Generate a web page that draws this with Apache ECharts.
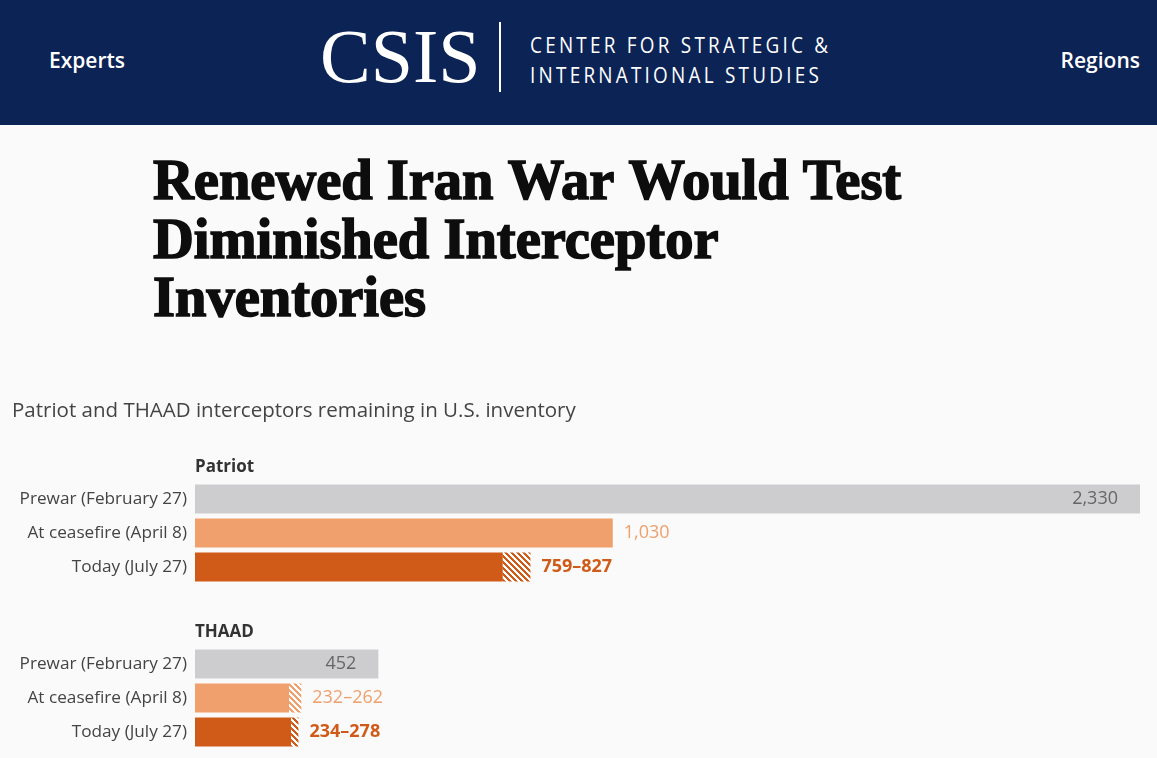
<!DOCTYPE html>
<html>
<head>
<meta charset="utf-8">
<script src="https://cdn.jsdelivr.net/npm/echarts@6/dist/echarts.min.js"></script>
<style>
  html, body { margin: 0; padding: 0; background: #fafafa; }
  #main { position: absolute; left: 0; top: 0; width: 1157px; height: 758px; }
  #head { position: absolute; left: 0; top: 0; width: 1157px; height: 125px; background: #0b2355; color: #fff; z-index: 2; }
  #head .nav { position: absolute; top: 46px; font: 600 21px "Open Sans"; line-height: 28px; }
  #head .logo { position: absolute; left: 320px; top: 10px; font: normal 76px "Liberation Serif"; line-height: 92px; letter-spacing: 0; }
  #head .bar { position: absolute; left: 499px; top: 22px; width: 2px; height: 70px; background: #fff; }
  #head .org { position: absolute; left: 530px; font: normal 21px "Open Sans"; letter-spacing: 3.6px; line-height: 24px;
               white-space: nowrap; transform: scaleX(0.9); transform-origin: left center; }
</style>
</head>
<body>
<div id="head">
  <div class="nav" style="left:49px">Experts</div>
  <div class="nav" style="right:17px">Regions</div>
  <div class="logo">CSIS</div>
  <div class="bar"></div>
  <div class="org" style="top:33px">CENTER FOR STRATEGIC &amp;</div>
  <div class="org" style="top:63px">INTERNATIONAL STUDIES</div>
</div>
<div id="main"></div>
<script>
var chart = echarts.init(document.getElementById('main'));

// data
var categories = ['Prewar (February 27)', 'At ceasefire (April 8)', 'Today (July 27)'];
var patriotLow = [2330, 1030, 759];
var patriotHigh = [2330, 1030, 827];
var patriotLabels = ['2,330', '1,030', '759–827'];
var thaadLow = [452, 232, 237];
var thaadHigh = [452, 262, 255];
var thaadLabels = ['452', '232–262', '234–278'];
var maxValue = 2330;

var titleLines = ['Renewed Iran War Would Test', 'Diminished Interceptor', 'Inventories'];
var subtitle = 'Patriot and THAAD interceptors remaining in U.S. inventory';

var grey = '#cdcdcf', light = '#efa06d', dark = '#d05a17';
var rowColors = [grey, light, dark];
var labelColors = ['#666666', '#efa06d', '#d05a17'];
var sans = '"Open Sans"';

// diagonal stripe pattern, "\\\" direction
function stripes(color) {
  var c = document.createElement('canvas');
  c.width = 6; c.height = 6;
  var ctx = c.getContext('2d');
  ctx.fillStyle = '#ffffff';
  ctx.fillRect(0, 0, 6, 6);
  ctx.fillStyle = color;
  for (var x = 0; x < 6; x++) {
    for (var y = 0; y < 6; y++) {
      if (((x - y) % 6 + 6) % 6 < 3) ctx.fillRect(x, y, 1, 1);
    }
  }
  return { image: c, repeat: 'repeat' };
}
var patterns = [null, stripes(light), stripes(dark)];

function solidData(low, labels) {
  return low.map(function (v, i) {
    var item = { value: v, itemStyle: { color: rowColors[i] } };
    if (i === 0) {
      item.label = {
        show: true, position: 'insideRight', distance: 22,
        formatter: labels[0], color: '#666666', fontSize: 18, fontFamily: sans
      };
    }
    return item;
  });
}
function hatchData(low, high, labels) {
  return low.map(function (v, i) {
    return {
      value: high[i] - v,
      itemStyle: { color: patterns[i] || rowColors[i] },
      label: {
        show: i > 0,
        position: 'right',
        distance: 11,
        formatter: labels[i],
        color: labelColors[i],
        fontSize: 18,
        fontWeight: i === 2 ? 'bold' : 'normal',
        fontFamily: sans
      }
    };
  });
}

var grids = [
  { left: 195, width: 945, top: 482, height: 102 },
  { left: 195, width: 945, top: 647, height: 102 }
];

var xAxes = [0, 1].map(function (i) {
  return { gridIndex: i, type: 'value', min: 0, max: maxValue, show: false };
});
var yAxes = [0, 1].map(function (i) {
  return {
    gridIndex: i, type: 'category', data: categories, inverse: true,
    axisLine: { show: false }, axisTick: { show: false }, splitLine: { show: false },
    axisLabel: { color: '#444', fontSize: 17.2, fontFamily: sans, margin: 8 }
  };
});

function pair(gi, low, high, labels, stack) {
  return [
    { type: 'bar', xAxisIndex: gi, yAxisIndex: gi, stack: stack, barWidth: 29,
      data: solidData(low, labels), silent: true },
    { type: 'bar', xAxisIndex: gi, yAxisIndex: gi, stack: stack, barWidth: 29,
      data: hatchData(low, high, labels), silent: true }
  ];
}

var graphic = [
  { type: 'text', x: 12, y: 411, style: { text: subtitle, fill: '#444', font: 'normal 20.5px ' + sans, verticalAlign: 'middle' } },
  { type: 'text', x: 195, y: 467, style: { text: 'Patriot', fill: '#333', font: 'bold 17px ' + sans, verticalAlign: 'middle' } },
  { type: 'text', x: 195, y: 632, style: { text: 'THAAD', fill: '#333', font: 'bold 17px ' + sans, verticalAlign: 'middle' } }
];
titleLines.forEach(function (t, i) {
  graphic.push({
    type: 'text', x: 153, y: 156 + i * 58.5,
    style: { text: t, fill: '#0d0d0d', font: 'bold 56.5px "Liberation Serif"',
      stroke: '#0d0d0d', lineWidth: 1.6 }
  });
});

var option = {
  backgroundColor: '#fafafa',
  animation: false,
  grid: grids,
  xAxis: xAxes,
  yAxis: yAxes,
  graphic: graphic,
  series: pair(0, patriotLow, patriotHigh, patriotLabels, 'patriot')
    .concat(pair(1, thaadLow, thaadHigh, thaadLabels, 'thaad'))
};

chart.setOption(option);
</script>
</body>
</html>
